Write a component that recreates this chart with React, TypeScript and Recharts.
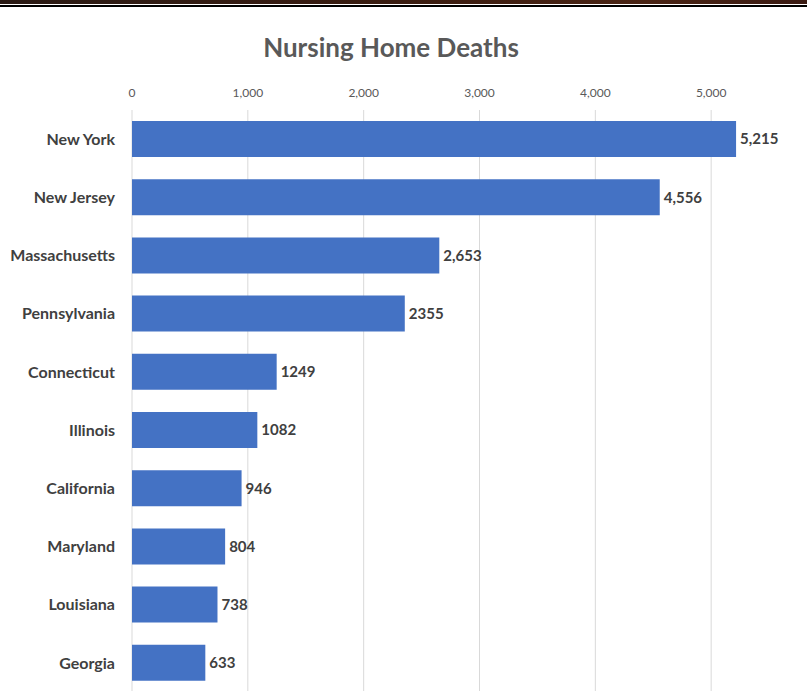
import React from 'react';
import { BarChart, Bar, XAxis, YAxis, CartesianGrid, LabelList } from 'recharts';

const states = [
    'New York',
    'New Jersey',
    'Massachusetts',
    'Pennsylvania',
    'Connecticut',
    'Illinois',
    'California',
    'Maryland',
    'Louisiana',
    'Georgia',
];
const deaths = [5215, 4556, 2653, 2355, 1249, 1082, 946, 804, 738, 633];
const deathLabels = ['5,215', '4,556', '2,653', '2355', '1249', '1082', '946', '804', '738', '633'];
const axisTicks = [0, 1000, 2000, 3000, 4000, 5000];

const data = states.map((state, i) => ({
    state,
    deaths: deaths[i],
    label: deathLabels[i],
}));

const font = 'Lato, "Open Sans", sans-serif';

export default function App() {
    return (
        <div
            style={{
                position: 'absolute',
                left: 0,
                top: 0,
                width: 807,
                height: 691,
                overflow: 'hidden',
                background: '#fff',
                fontFamily: font,
            }}
        >
            <div style={{ position: 'absolute', left: 0, top: 0, width: 807, height: 4, background: 'linear-gradient(90deg, #2a1a14, #3a1c10 50%, #4a2414 80%, #3a1a12)' }} />
            <div style={{ position: 'absolute', left: 0, top: 5, width: 807, height: 2, background: '#000' }} />
            <div
                style={{
                    position: 'absolute',
                    left: 0,
                    top: 31,
                    width: 782,
                    textAlign: 'center',
                    fontSize: 26,
                    fontWeight: 700,
                    color: '#595959',
                }}
            >
                Nursing Home Deaths
            </div>
            <BarChart
                layout="vertical"
                width={827}
                height={692}
                data={data}
                margin={{ top: 71, right: 0, left: 0, bottom: 0 }}
                style={{ position: 'absolute', left: 0, top: 0 }}
            >
                <CartesianGrid horizontal={false} stroke="#d9d9d9" />
                <XAxis
                    type="number"
                    orientation="top"
                    domain={[0, 6000]}
                    ticks={axisTicks}
                    height={39}
                    axisLine={false}
                    tickLine={false}
                    tickSize={0}
                    tickMargin={13}
                    tickFormatter={(v) => (v as number).toLocaleString('en-US')}
                    tick={{ fontSize: 12, fill: '#595959', fontFamily: font }}
                />
                <YAxis
                    dataKey="state"
                    type="category"
                    width={132}
                    axisLine={false}
                    tickLine={false}
                    tickSize={0}
                    tickMargin={17}
                    interval={0}
                    tick={{ fontSize: 16, fontWeight: 700, fill: '#404040', fontFamily: font }}
                />
                <Bar dataKey="deaths" fill="#4472C4" barSize={36} isAnimationActive={false}>
                    <LabelList
                        dataKey="label"
                        position="right"
                        offset={4}
                        style={{ fontSize: 15, fontWeight: 700, fill: '#404040', fontFamily: font }}
                    />
                </Bar>
            </BarChart>
        </div>
    );
}
